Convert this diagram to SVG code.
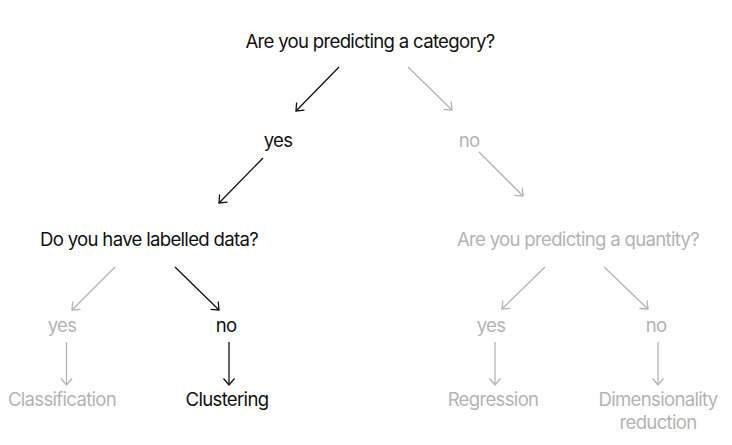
<svg xmlns="http://www.w3.org/2000/svg" width="732" height="445" viewBox="0 0 732 445">
<defs>
<style>
text{font-family:Inter,"Liberation Sans",sans-serif;font-size:18.6px;letter-spacing:-0.7px;text-anchor:middle}
.k{fill:#111}
.g{fill:#b4b4b4}
.ck{stroke:#111;stroke-width:1.3;fill:none}
.cg{stroke:#b4b4b4;stroke-width:1.3;fill:none}
</style>
<marker id="ak" viewBox="-8 -7 10 14" markerWidth="10" markerHeight="14" refX="0" refY="0" orient="auto" markerUnits="userSpaceOnUse"><path d="M-6.5,-5.5 L0,0 L-6.5,5.5" fill="none" stroke="#111" stroke-width="1.3"/></marker>
<marker id="ag" viewBox="-8 -7 10 14" markerWidth="10" markerHeight="14" refX="0" refY="0" orient="auto" markerUnits="userSpaceOnUse"><path d="M-6.5,-5.5 L0,0 L-6.5,5.5" fill="none" stroke="#b4b4b4" stroke-width="1.3"/></marker>
</defs>
<rect width="732" height="445" fill="#fff"/>
<g id="connectors">
<line class="ck" x1="339" y1="67" x2="296" y2="111" marker-end="url(#ak)"/>
<line class="cg" x1="408" y1="67" x2="452" y2="110" marker-end="url(#ag)"/>
<line class="ck" x1="263" y1="158" x2="219" y2="203" marker-end="url(#ak)"/>
<line class="cg" x1="479" y1="152" x2="523" y2="196" marker-end="url(#ag)"/>
<line class="cg" x1="115" y1="267" x2="72" y2="310" marker-end="url(#ag)"/>
<line class="ck" x1="175" y1="267" x2="219" y2="310" marker-end="url(#ak)"/>
<line class="cg" x1="545" y1="267" x2="502" y2="309" marker-end="url(#ag)"/>
<line class="cg" x1="604" y1="267" x2="648" y2="309" marker-end="url(#ag)"/>
<line class="cg" x1="66.5" y1="342" x2="66.5" y2="385" marker-end="url(#ag)"/>
<line class="ck" x1="229" y1="342" x2="229" y2="385" marker-end="url(#ak)"/>
<line class="cg" x1="495" y1="342" x2="495" y2="385" marker-end="url(#ag)"/>
<line class="cg" x1="658" y1="342" x2="658" y2="385" marker-end="url(#ag)"/>
</g>
<g id="q1"><text class="k" x="370" y="48">Are you predicting a category?</text></g>
<g id="yes1"><text class="k" x="278" y="147">yes</text></g>
<g id="no1"><text class="g" x="469" y="147">no</text></g>
<g id="q2"><text class="k" x="149" y="246">Do you have labelled data?</text></g>
<g id="q3"><text class="g" x="578" y="246">Are you predicting a quantity?</text></g>
<g id="yes2"><text class="g" x="62" y="332">yes</text></g>
<g id="no2"><text class="k" x="226" y="332">no</text></g>
<g id="yes3"><text class="g" x="491" y="332">yes</text></g>
<g id="no3"><text class="g" x="656" y="332">no</text></g>
<g id="classification"><text class="g" x="62" y="406">Classification</text></g>
<g id="clustering"><text class="k" x="227" y="406">Clustering</text></g>
<g id="regression"><text class="g" x="493" y="406">Regression</text></g>
<g id="dimred"><text class="g" x="658" y="406">Dimensionality</text><text class="g" x="658" y="429">reduction</text></g>
</svg>
